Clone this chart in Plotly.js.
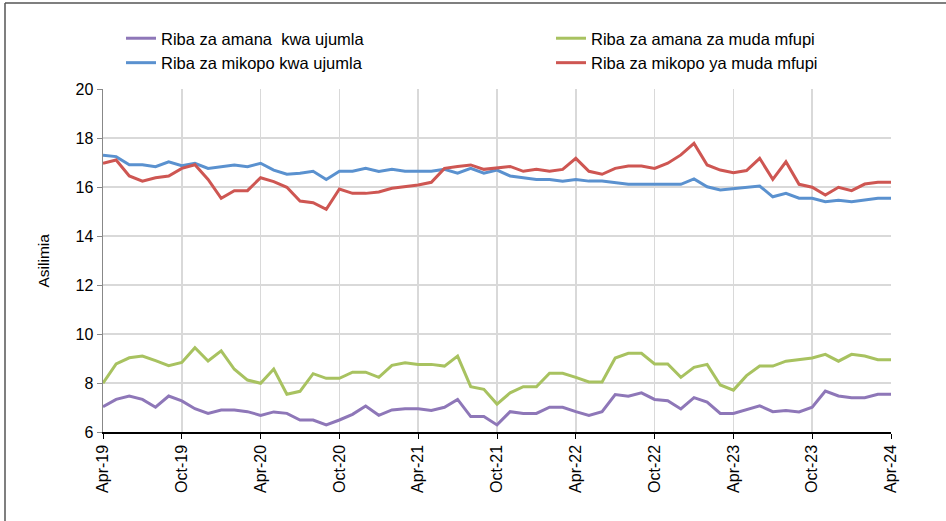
<!DOCTYPE html>
<html>
<head>
<meta charset="utf-8">
<script src="https://cdn.plot.ly/plotly-3.0.1.min.js"></script>
<style>html,body{margin:0;padding:0;background:#fff;}#chart{width:946px;height:521px;}</style>
</head>
<body>
<div id="chart"></div>
<script>
const months = ["Apr-19","May-19","Jun-19","Jul-19","Aug-19","Sep-19","Oct-19","Nov-19","Dec-19","Jan-20","Feb-20","Mar-20",
"Apr-20","May-20","Jun-20","Jul-20","Aug-20","Sep-20","Oct-20","Nov-20","Dec-20","Jan-21","Feb-21","Mar-21",
"Apr-21","May-21","Jun-21","Jul-21","Aug-21","Sep-21","Oct-21","Nov-21","Dec-21","Jan-22","Feb-22","Mar-22",
"Apr-22","May-22","Jun-22","Jul-22","Aug-22","Sep-22","Oct-22","Nov-22","Dec-22","Jan-23","Feb-23","Mar-23",
"Apr-23","May-23","Jun-23","Jul-23","Aug-23","Sep-23","Oct-23","Nov-23","Dec-23","Jan-24","Feb-24","Mar-24","Apr-24"];
const tickLabels = ["Apr-19","Oct-19","Apr-20","Oct-20","Apr-21","Oct-21","Apr-22","Oct-22","Apr-23","Oct-23","Apr-24"];

const amanaUjumla = [7.03,7.33,7.47,7.33,7.01,7.47,7.27,6.95,6.76,6.9,
6.9,6.83,6.68,6.82,6.76,6.49,6.49,6.29,6.49,6.72,
7.06,6.68,6.9,6.95,6.95,6.88,7.01,7.33,6.63,6.63,
6.29,6.83,6.76,6.76,7.01,7.01,6.83,6.68,6.83,7.53,
7.46,7.6,7.33,7.28,6.94,7.4,7.22,6.76,6.76,6.9,
7.07,6.83,6.88,6.82,7.01,7.67,7.47,7.4,7.4,7.54,7.54];
const amanaMfupi = [7.99,8.78,9.03,9.1,8.91,8.71,8.84,9.44,8.9,9.31,
8.56,8.12,7.99,8.57,7.54,7.66,8.38,8.19,8.19,8.44,
8.44,8.23,8.72,8.83,8.76,8.76,8.69,9.1,7.85,7.74,
7.14,7.6,7.85,7.85,8.4,8.4,8.23,8.04,8.04,9.02,
9.21,9.21,8.78,8.78,8.23,8.64,8.76,7.92,7.71,8.3,
8.69,8.69,8.89,8.95,9.02,9.17,8.89,9.17,9.1,8.95,8.95];
const mikopoUjumla = [17.3,17.24,16.91,16.91,16.83,17.03,16.87,16.97,16.76,16.83,
16.9,16.83,16.97,16.69,16.52,16.56,16.64,16.31,16.64,16.64,
16.76,16.63,16.72,16.64,16.64,16.64,16.72,16.56,16.76,16.56,
16.69,16.45,16.38,16.31,16.31,16.24,16.31,16.24,16.24,16.18,
16.11,16.11,16.11,16.11,16.11,16.33,16.01,15.88,15.93,15.99,
16.04,15.6,15.74,15.54,15.54,15.4,15.46,15.4,15.46,15.54,15.54];
const mikopoMfupi = [16.97,17.1,16.45,16.24,16.38,16.45,16.76,16.91,16.31,15.54,
15.85,15.85,16.38,16.22,15.99,15.43,15.36,15.09,15.92,15.74,
15.74,15.8,15.95,16.01,16.08,16.19,16.76,16.84,16.9,16.72,
16.79,16.84,16.64,16.72,16.64,16.72,17.17,16.64,16.52,16.76,
16.86,16.86,16.76,16.97,17.31,17.78,16.9,16.69,16.58,16.67,
17.17,16.31,17.03,16.11,15.99,15.67,15.99,15.85,16.12,16.19,16.19];

const names = ["Riba za amana  kwa ujumla","Riba za amana za muda mfupi","Riba za mikopo kwa ujumla","Riba za mikopo ya muda mfupi"];
const colors = ["#8E77B8","#A8C260","#5A91CF","#CE5652"];
const series = [amanaUjumla, amanaMfupi, mikopoUjumla, mikopoMfupi];
const legendOf = ["legend","legend2","legend","legend2"];
const yTitle = "Asilimia";

const traces = series.map((s,k)=>({
  x: months, y: s, type:'scatter', mode:'lines', name: names[k], legend: legendOf[k],
  line:{color:colors[k], width:3}
}));

const FONT = "Liberation Sans, Arial, sans-serif";
const W=946,H=521,L=103,R=891,T=89,B=432;
const px = v=>(v-L)/(R-L), py = v=>(B-v)/(B-T);
const legFont = {family:FONT,size:16.5,color:'#000'};
const legBase = {orientation:'v', xref:'container', yref:'container', xanchor:'left', yanchor:'top',
  font:legFont, traceorder:'normal', bgcolor:'rgba(0,0,0,0)', itemwidth:30, tracegroupgap:0};

const layout = {
  width:W, height:H,
  margin:{l:L, r:W-R, t:T, b:H-B, pad:0, autoexpand:false},
  paper_bgcolor:'#fff', plot_bgcolor:'#fff',
  font:{family:FONT, size:15, color:'#000'},
  showlegend:true,
  legend:Object.assign({}, legBase, {x:121/W, y:1-21/H}),
  legend2:Object.assign({}, legBase, {x:551/W, y:1-21/H}),
  xaxis:{type:'category', range:[0,60], tickmode:'array', tickvals:tickLabels, ticktext:tickLabels, tickangle:-90,
    showgrid:true, gridcolor:'#d9d9d9', gridwidth:1.5, showline:true, linecolor:'#000', linewidth:1.5,
    ticks:'outside', ticklen:5, tickcolor:'#000', tickfont:{family:FONT,size:16,color:'#000'}, zeroline:false, fixedrange:true},
  yaxis:{range:[6,20], dtick:2, tick0:6, showgrid:true, gridcolor:'#d9d9d9', gridwidth:1.5, showline:true, linecolor:'#888', linewidth:1.5,
    ticks:'outside', ticklen:5, tickcolor:'#888', tickfont:{family:FONT,size:16,color:'#000'}, zeroline:false, fixedrange:true},
  annotations:[
    {text:yTitle, xref:'paper', yref:'paper', x:px(43), y:0.5, xanchor:'center', yanchor:'middle', textangle:-90,
     showarrow:false, font:{family:FONT,size:15.5,color:'#000'}}
  ],
  shapes:[
    {type:'line', xref:'paper', yref:'paper', x0:px(5), x1:px(5), y0:py(H+5), y1:py(3), line:{color:'#555', width:1.5}},
    {type:'line', xref:'paper', yref:'paper', x0:px(5), x1:px(W+5), y0:py(3), y1:py(3), line:{color:'#555', width:1.5}}
  ]
};

Plotly.newPlot('chart', traces, layout, {displayModeBar:false, staticPlot:true});
</script>
</body>
</html>
